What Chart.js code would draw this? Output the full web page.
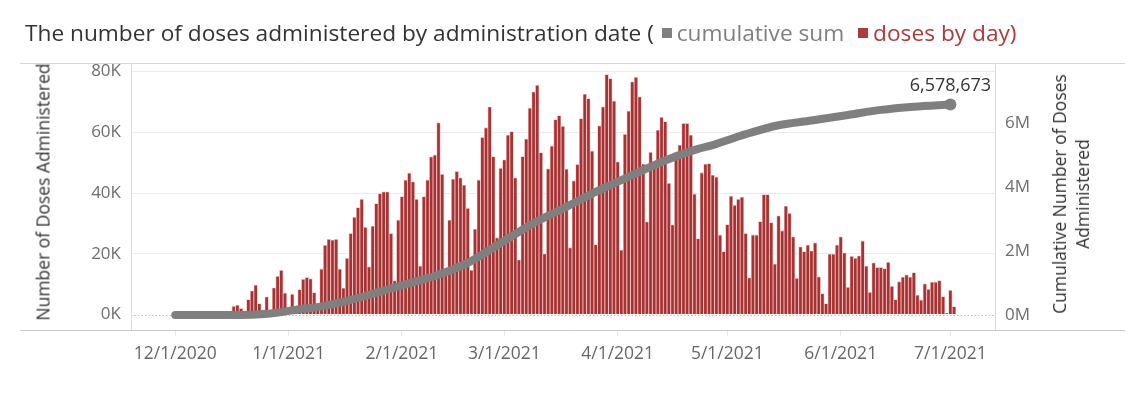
<!DOCTYPE html>
<html>
<head>
<meta charset="utf-8">
<script src="https://cdn.jsdelivr.net/npm/chart.js@4.4.1/dist/chart.umd.min.js"></script>
<style>
  body { margin: 0; background: #fff; font-family: 'Open Sans', sans-serif; }
  #wrap { position: relative; width: 1140px; height: 394px; overflow: hidden; }
  #title { position: absolute; left: 25px; top: 17px; font-size: 22.7px; color: #333; white-space: nowrap; line-height: 32px; }
  .sw { display: inline-block; width: 10px; height: 10px; margin: 0 5px 3px 2px; vertical-align: middle; }
  .axt { position: absolute; white-space: nowrap; color: #333; font-size: 17.5px; text-align: center; line-height: 23px;
         transform: translate(-50%, -50%) rotate(-90deg); }
</style>
</head>
<body>
<div id="wrap">
  <canvas id="chart" width="1140" height="394"></canvas>
  <div id="title">The number of doses administered by administration date ( <span class="sw" style="background:#7f7f7f"></span><span style="color:#7f7f7f">cumulative sum</span>&nbsp; <span class="sw" style="background:#b03a3a"></span><span style="color:#b03a3a">doses by day)</span></div>
  <div class="axt" style="left:43px;top:192px">Number of Doses Administered</div>
  <div class="axt" style="left:1071px;top:194px">Cumulative Number of Doses<br>Administered</div>
</div>
<script>
// x axis labels
var tickDates = ['12/1/2020', '1/1/2021', '2/1/2021', '3/1/2021', '4/1/2021', '5/1/2021', '6/1/2021', '7/1/2021'];

// doses by day, in thousands, one value per day starting at firstBarDate
var firstBarDate = '12/17/2020';
var dosesByDayK = [
  2.7, 3.1, 2.0, 0.4, 4.9, 7.8, 9.7, 3.6, 1.5, 5.8, 1.2, 8.8, 12.6, 14.6, 7.1, 1.5, 6.7, 1.8, 8.2, 11.6,
  12.2, 11.8, 7.2, 2.5, 15.0, 22.8, 24.8, 24.5, 24.8, 15.0, 8.7,
  18.5, 26.7, 32, 35.2, 37.9, 28.7, 15.7, 29.1, 36.5, 39.8, 40.4, 40.4, 26.7, 11.1, 31.1, 38.8, 44.3, 46.6,
  43.7, 37.9, 16, 38.8, 44.3, 51.9, 52.5, 63.1, 46.2, 14, 31.1, 44.6, 47.1, 45, 42.6, 35,
  14.6, 28.1, 44.3, 58.3, 61.5, 68.4, 52, 25.3, 48.1, 50.9, 59.1, 60.2, 45, 18, 52, 57.8, 68, 73.3, 75.5,
  53.3, 20, 48, 55.5, 64.2, 65.5, 62, 47.9, 22, 44, 49.4, 64.5, 72.6, 71.1,
  53.8, 23, 62.1, 68.4, 79, 77.7, 70.3, 50.3, 21.2, 59.3, 67, 76.6, 78.1, 71.7, 49.5, 30.5, 53.4, 50.3,
  60.7, 64.9, 63.5, 43.2, 29.5, 53.4, 55.8,
  62.9, 62.9, 59.1, 39.7, 25, 46.7, 49.5, 49.7, 45.9, 45.3, 26.2, 20.7, 29.6, 39, 36, 37.9, 38.7, 26.7,
  12.1, 26.2, 26.2, 30.6, 39.5, 39.5, 30.3, 16.6, 32.5, 27.6, 35.7, 33.3, 25.6, 11.9, 22.3, 20.7, 22.9,
  21, 23.6, 12.4, 6.9, 3.6, 19.9, 19.9, 22.9, 25.6, 20.3, 9, 19.2, 18.5, 19.3, 24.2, 16, 7.3, 17, 15.5,
  15.5, 15.1, 17.2, 9.3, 4.9, 10.8, 12.3, 13.1, 12.3, 13.8, 6.4, 4.8, 10.1, 8.3, 10.7, 10.7, 11.2, 5.9,
  0.4, 8, 2.6
];

// cumulative sum
var cumulativeDates = ['12/1/2020', '12/16/2020', '12/27/2020', '1/4/2021', '1/10/2021', '1/18/2021', '1/27/2021',
  '2/5/2021', '2/10/2021', '2/19/2021', '2/28/2021', '3/9/2021', '3/18/2021', '3/27/2021', '4/5/2021',
  '4/14/2021', '4/23/2021', '4/27/2021', '5/6/2021', '5/15/2021', '5/24/2021', '6/3/2021', '6/12/2021',
  '6/21/2021', '7/1/2021'];
var cumulativeDoses = [0, 0, 50000, 180000, 270000, 470000, 760000, 1060000, 1220000, 1630000, 2250000,
  2870000, 3380000, 3900000, 4370000, 4830000, 5190000, 5310000, 5650000, 5930000, 6080000, 6250000,
  6410000, 6510000, 6578673];

function dayIndex(s) {
  var p = s.split('/').map(Number);
  return (Date.UTC(p[2], p[0] - 1, p[1]) - Date.UTC(2020, 11, 1)) / 864e5;
}

var tickDays = tickDates.map(dayIndex);
var start = dayIndex(firstBarDate);
var barData = dosesByDayK.map(function (v, i) { return { x: start + i, y: v * 1000 }; });
var cumData = cumulativeDates.map(function (d, i) { return { x: dayIndex(d), y: cumulativeDoses[i] }; });

var frame = {
  id: 'frame',
  beforeDatasetsDraw: function (chart) {
    var ctx = chart.ctx, a = chart.chartArea;
    var y0 = Math.round(chart.scales.y.getPixelForValue(0)) + 0.5;
    ctx.save();
    ctx.strokeStyle = '#b8b8b8';
    ctx.lineWidth = 1;
    ctx.setLineDash([1.5, 2]);
    ctx.beginPath(); ctx.moveTo(a.left, y0); ctx.lineTo(a.right, y0); ctx.stroke();
    ctx.restore();
  },
  afterDraw: function (chart) {
    var ctx = chart.ctx, a = chart.chartArea;
    var top = Math.round(a.top) + 0.5, bot = Math.round(a.bottom) + 0.5;
    ctx.save();
    ctx.lineWidth = 1;
    ctx.strokeStyle = '#d6d6d6';
    ctx.beginPath(); ctx.moveTo(20, top); ctx.lineTo(1125, top); ctx.stroke();
    ctx.strokeStyle = '#c9c9c9';
    ctx.beginPath(); ctx.moveTo(20, bot); ctx.lineTo(1125, bot); ctx.stroke();
    ctx.strokeStyle = '#dedede';
    ctx.beginPath();
    ctx.moveTo(Math.round(a.left) + 0.5, a.top); ctx.lineTo(Math.round(a.left) + 0.5, a.bottom);
    ctx.moveTo(Math.round(a.right) + 0.5, a.top); ctx.lineTo(Math.round(a.right) + 0.5, a.bottom);
    ctx.stroke();

    // end label of the cumulative line
    var meta = chart.getDatasetMeta(0);
    var pt = meta.data[meta.data.length - 1];
    ctx.font = "18px 'Open Sans'";
    ctx.fillStyle = '#333';
    ctx.textAlign = 'center';
    ctx.textBaseline = 'middle';
    ctx.fillText(cumulativeDoses[cumulativeDoses.length - 1].toLocaleString('en-US'), pt.x, pt.y - 19);
    ctx.restore();
  }
};

Chart.defaults.font.family = "'Open Sans', sans-serif";

new Chart(document.getElementById('chart'), {
  type: 'bar',
  data: {
    datasets: [
      {
        type: 'line',
        order: 0,
        yAxisID: 'y2',
        data: cumData,
        borderColor: '#7f7f7f',
        borderWidth: 8,
        borderCapStyle: 'round',
        borderJoinStyle: 'round',
        cubicInterpolationMode: 'monotone',
        pointRadius: function (c) { return c.dataIndex === cumData.length - 1 ? 6 : 0; },
        pointBackgroundColor: '#7f7f7f',
        pointBorderWidth: 0
      },
      {
        type: 'bar',
        order: 1,
        yAxisID: 'y',
        data: barData,
        backgroundColor: '#a83232',
        borderColor: '#edc4c4',
        borderWidth: 0.8,
        barPercentage: 1,
        categoryPercentage: 1
      }
    ]
  },
  options: {
    responsive: false,
    animation: false,
    events: [],
    layout: { padding: { top: 63, left: 0, right: 0, bottom: 0 } },
    plugins: { legend: { display: false }, tooltip: { enabled: false } },
    scales: {
      x: {
        type: 'linear',
        offset: false,
        min: -12.1,
        max: 224.2,
        afterBuildTicks: function (s) { s.ticks = tickDays.map(function (v) { return { value: v }; }); },
        afterFit: function (s) { s.height = 64; s.paddingLeft = 0; s.paddingRight = 0; },
        ticks: {
          autoSkip: false, maxRotation: 0, color: '#666', font: { size: 17.5 }, padding: 8,
          callback: function (v, i) { return tickDates[i]; }
        },
        grid: { offset: false, drawOnChartArea: false, drawTicks: true, tickLength: 6, tickColor: '#e6e6e6' },
        border: { display: false }
      },
      y: {
        position: 'left',
        min: -5100,
        max: 82800,
        afterBuildTicks: function (s) { s.ticks = [0, 20000, 40000, 60000, 80000].map(function (v) { return { value: v }; }); },
        afterFit: function (s) { s.width = 131; },
        ticks: { color: '#6e6e6e', font: { size: 17 }, padding: 10, callback: function (v) { return v / 1000 + 'K'; } },
        grid: { color: function (c) { return c.tick && c.tick.value === 0 ? 'rgba(0,0,0,0)' : '#ebebeb'; }, drawTicks: false },
        border: { display: false }
      },
      y2: {
        position: 'right',
        min: -469000,
        max: 7875000,
        afterBuildTicks: function (s) { s.ticks = [0, 2e6, 4e6, 6e6].map(function (v) { return { value: v }; }); },
        afterFit: function (s) { s.width = 145; },
        ticks: { color: '#6e6e6e', font: { size: 17 }, padding: 10, callback: function (v) { return v / 1e6 + 'M'; } },
        grid: { drawOnChartArea: false, drawTicks: false },
        border: { display: false }
      }
    }
  },
  plugins: [frame]
});
</script>
</body>
</html>
